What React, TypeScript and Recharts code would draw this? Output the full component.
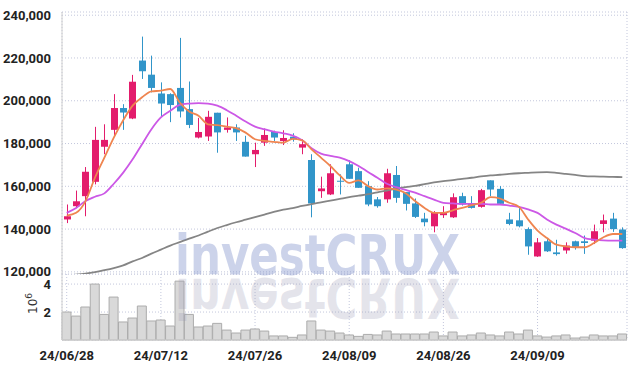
import React from 'react';
import { ComposedChart, Bar, Line, XAxis, YAxis, CartesianGrid } from 'recharts';

const dates = [
  '24/06/28', '24/07/01', '24/07/02', '24/07/03', '24/07/04', '24/07/05',
  '24/07/08', '24/07/09', '24/07/10', '24/07/11', '24/07/12',
  '24/07/15', '24/07/16', '24/07/17', '24/07/18', '24/07/19',
  '24/07/22', '24/07/23', '24/07/24', '24/07/25', '24/07/26',
  '24/07/29', '24/07/30', '24/07/31', '24/08/01', '24/08/02',
  '24/08/05', '24/08/06', '24/08/07', '24/08/08', '24/08/09',
  '24/08/12', '24/08/13', '24/08/14', '24/08/16',
  '24/08/19', '24/08/20', '24/08/21', '24/08/22', '24/08/23',
  '24/08/26', '24/08/27', '24/08/28', '24/08/29', '24/08/30',
  '24/09/02', '24/09/03', '24/09/04', '24/09/05', '24/09/06',
  '24/09/09', '24/09/10', '24/09/11', '24/09/12', '24/09/13',
  '24/09/19', '24/09/20', '24/09/23', '24/09/24', '24/09/25',
];

const opens = [
  144500, 150700, 155400, 162100, 178500, 186400, 196600, 191700, 218800, 212200,
  203400, 203100, 206000, 196100, 182800, 183300, 194400, 186400, 187500, 180800,
  175000, 180400, 185400, 181200, 183200, 178100, 172300, 157700, 156200, 162600,
  170300, 167100, 160100, 153900, 153900, 165300, 157300, 152000, 144900, 141300,
  146500, 145500, 155400, 151800, 150400, 162800, 158800, 144500, 144100, 140000,
  127200, 134300, 129100, 130000, 134300, 134300, 134600, 142400, 144900, 139800,
];
const highs = [
  151500, 158000, 169000, 187800, 189000, 203100, 198400, 212100, 230000, 221100,
  208600, 203500, 229400, 209000, 192000, 195300, 194400, 192200, 189000, 183600,
  180400, 187000, 186000, 186200, 184800, 182000, 175000, 164500, 170300, 165600,
  172200, 168700, 162400, 155000, 168200, 169500, 157300, 154300, 147600, 148400,
  150700, 156700, 157000, 155400, 158800, 162800, 160100, 147600, 150700, 140800,
  135800, 135800, 135000, 133800, 134600, 137000, 142100, 146800, 147600, 140800,
];
const lows = [
  142800, 149800, 146000, 160900, 175000, 183900, 186400, 191400, 210200, 203900,
  192500, 190000, 192200, 187200, 182400, 181200, 175700, 185100, 181200, 173900,
  169000, 178900, 181200, 179300, 180900, 175000, 145500, 154600, 155900, 156200,
  163500, 159300, 150700, 150000, 152300, 152300, 148700, 145200, 141300, 138500,
  145200, 145200, 151000, 149600, 150000, 155400, 151500, 141800, 140800, 128000,
  127000, 129300, 127600, 128500, 130400, 128400, 133000, 138500, 138700, 130800,
];
const closes = [
  146000, 153000, 166800, 181700, 181700, 196600, 194500, 208900, 213800, 206000,
  198700, 198000, 195000, 188700, 185400, 192500, 185200, 187500, 185200, 173900,
  177000, 184000, 182800, 182600, 182000, 179700, 152000, 159000, 166100, 162200,
  163500, 159300, 151500, 150700, 166100, 154600, 151800, 145700, 143200, 147600,
  147600, 154900, 151500, 149900, 158200, 158500, 151800, 142400, 141300, 131900,
  133800, 129600, 128300, 132300, 131500, 133500, 139000, 144100, 140000, 131100,
];
const volumes = [
  2000000, 1710000, 2360000, 4000000, 1830000, 3070000, 1290000, 1570000, 2430000, 1360000,
  1430000, 1000000, 4210000, 1830000, 930000, 1000000, 1190000, 710000, 500000, 710000,
  790000, 640000, 290000, 290000, 190000, 360000, 1360000, 710000, 640000, 500000,
  360000, 260000, 400000, 360000, 640000, 430000, 430000, 430000, 430000, 570000,
  290000, 570000, 290000, 360000, 500000, 360000, 290000, 570000, 430000, 710000,
  290000, 210000, 290000, 360000, 140000, 210000, 360000, 290000, 290000, 430000,
];
const ma5 = [
  146300, 147600, 153100, 164000, 173400, 182800, 190900, 197700, 201600, 204400,
  204700, 205500, 199200, 195000, 193000, 189000, 188600, 187900, 187200, 185100,
  182000, 181200, 180800, 180400, 182200, 181500, 177300, 173400, 169500, 165100,
  161600, 162800, 160100, 158500, 159000, 158500, 156800, 153100, 149900, 147600,
  147600, 148800, 149900, 151200, 152300, 154900, 154300, 152300, 150500, 144500,
  139300, 135800, 132700, 131900, 131500, 131500, 133500, 136200, 137700, 137700,
];
const ma10 = [
  147600, 149900, 153100, 155100, 156700, 161200, 166400, 172600, 179700, 186700,
  192200, 195300, 198100, 198700, 198900, 198700, 197700, 195600, 193000, 190300,
  187900, 186700, 185600, 184800, 183700, 181500, 177800, 175300, 174200, 173400,
  171800, 169500, 166700, 164000, 161200, 159600, 158300, 157000, 155400, 153800,
  152300, 152000, 151800, 151800, 151800, 151500, 151500, 151000, 150400, 149200,
  147600, 144500, 142100, 140200, 138200, 135800, 135100, 134700, 134600, 134600,
];
const ma120 = [
  118300, 118700, 119200, 119900, 120800, 121800, 123000, 124900, 126500, 128500,
  130400, 132300, 133900, 135500, 137000, 138800, 140500, 141900, 143200, 144400,
  145600, 146800, 148000, 149100, 149800, 150800, 151700, 152500, 153300, 154100,
  154900, 155600, 156300, 157200, 158000, 158900, 159600, 160200, 161000, 161800,
  162400, 162900, 163500, 164000, 164600, 165100, 165400, 165800, 166100, 166300,
  166500, 166600, 166300, 165800, 165300, 164800, 164600, 164500, 164400, 164300,
];

const xTicks = ['24/06/28', '24/07/12', '24/07/26', '24/08/09', '24/08/26', '24/09/09'];
const priceTicks = [120000, 140000, 160000, 180000, 200000, 220000, 240000];
const volumeTicks = [2000000, 4000000];

const data = dates.map((date, i) => ({
  date,
  open: opens[i],
  high: highs[i],
  low: lows[i],
  close: closes[i],
  range: [lows[i], highs[i]],
  volume: volumes[i],
  ma5: ma5[i],
  ma10: ma10[i],
  ma120: ma120[i],
}));

const RED = '#e31c6c';
const BLUE = '#3195c9';
const GRID = '#c3c7dc';
const FRAME = '#d0d0d0';
const tickStyle = { fontFamily: 'Roboto', fontSize: 13, fontWeight: 700, fill: '#222' };

const Candle = (props: any) => {
  const { x, y, width, height, payload } = props;
  if (!payload || x == null) return null;
  const { open, close, high, low } = payload;
  const top = Math.min(y, y + height);
  const h = Math.abs(height);
  const up = close >= open;
  const color = up ? RED : BLUE;
  const ratio = h / (high - low || 1);
  const bodyTop = top + (high - Math.max(open, close)) * ratio;
  const bodyH = Math.max(Math.abs(open - close) * ratio, 1);
  const cx = Math.round(x + width / 2) + 0.5;
  return (
    <g>
      <line x1={cx} x2={cx} y1={top} y2={top + h} stroke={color} strokeWidth={1} />
      <rect x={cx - 3.5} y={bodyTop} width={7} height={bodyH} fill={color} />
    </g>
  );
};

const fmtPrice = (v: number) => v.toLocaleString('en-US');
const fmtVol = (v: number) => String(v / 1000000);

export default function App() {
  return (
    <div style={{ position: 'absolute', left: 0, top: 0, width: 637, height: 368, background: '#fff' }}>
      <div style={{ position: 'absolute', left: 0, top: 0 }}>
        <ComposedChart width={637} height={290} data={data} margin={{ top: 12, right: 10, bottom: 16, left: 0 }}>
          <CartesianGrid stroke={GRID} strokeDasharray="1 2" />
          <XAxis dataKey="date" ticks={xTicks} interval={0} tick={false} tickLine={false} height={0} axisLine={{ stroke: FRAME }} />
          <XAxis xAxisId="top" dataKey="date" orientation="top" tick={false} tickLine={false} height={0} axisLine={{ stroke: FRAME }} />
          <YAxis
            domain={[119000, 241500]}
            ticks={priceTicks}
            type="number"
            interval={0}
            allowDataOverflow
            width={62}
            tickLine={false}
            tickMargin={5}
            axisLine={{ stroke: FRAME }}
            tick={tickStyle}
            tickFormatter={fmtPrice}
          />
          <YAxis yAxisId="right" orientation="right" width={0} tick={false} tickLine={false} axisLine={{ stroke: FRAME }} />
          <Bar dataKey="range" barSize={7} shape={Candle} isAnimationActive={false} />
          <Line dataKey="ma120" type="monotone" stroke="#858585" strokeWidth={1.8} dot={false} isAnimationActive={false} />
          <Line dataKey="ma10" type="monotone" stroke="#cc58e6" strokeWidth={1.8} dot={false} isAnimationActive={false} />
          <Line dataKey="ma5" type="monotone" stroke="#ef8550" strokeWidth={1.8} dot={false} isAnimationActive={false} />
        </ComposedChart>
      </div>
      <div style={{ position: 'absolute', left: 0, top: 274 }}>
        <ComposedChart width={637} height={94} data={data} margin={{ top: 0, right: 10, bottom: 0, left: 0 }} barCategoryGap={0}>
          <CartesianGrid stroke={GRID} strokeDasharray="1 2" />
          <XAxis
            dataKey="date"
            ticks={xTicks}
            interval={0}
            height={28}
            tickLine={false}
            tickMargin={5}
            axisLine={{ stroke: FRAME }}
            tick={tickStyle}
          />
          <XAxis xAxisId="top" dataKey="date" orientation="top" tick={false} tickLine={false} height={0} axisLine={{ stroke: FRAME }} />
          <YAxis
            domain={[0, 4720000]}
            ticks={volumeTicks}
            type="number"
            interval={0}
            width={62}
            tickLine={false}
            tickMargin={5}
            axisLine={{ stroke: FRAME }}
            tick={tickStyle}
            tickFormatter={fmtVol}
          />
          <YAxis yAxisId="right" orientation="right" width={0} tick={false} tickLine={false} axisLine={{ stroke: FRAME }} />
          <Bar dataKey="volume" fill="#d9d9d9" stroke="#acacac" strokeWidth={1} isAnimationActive={false} />
        </ComposedChart>
      </div>
      <svg width={637} height={368} style={{ position: 'absolute', left: 0, top: 0, pointerEvents: 'none' }}>
        <text
          x={175}
          y={274}
          fontFamily="DejaVu Sans"
          fontWeight="bold"
          fontSize={55}
          textLength={285}
          lengthAdjust="spacingAndGlyphs"
          fill="rgb(122,140,200)"
          fillOpacity={0.38}
        >
          investCRUX
        </text>
        <g transform="translate(0,553) scale(1,-1)">
          <text
            x={175}
            y={274}
            fontFamily="DejaVu Sans"
            fontWeight="bold"
            fontSize={55}
            textLength={285}
            lengthAdjust="spacingAndGlyphs"
            fill="rgb(150,150,178)"
            fillOpacity={0.25}
          >
            investCRUX
          </text>
        </g>
        <text transform="translate(37,314) rotate(-90)" fontFamily="DejaVu Sans" fontSize={12} fill="#333">
          10<tspan dy={-5} fontSize={9}>6</tspan>
        </text>
      </svg>
    </div>
  );
}
